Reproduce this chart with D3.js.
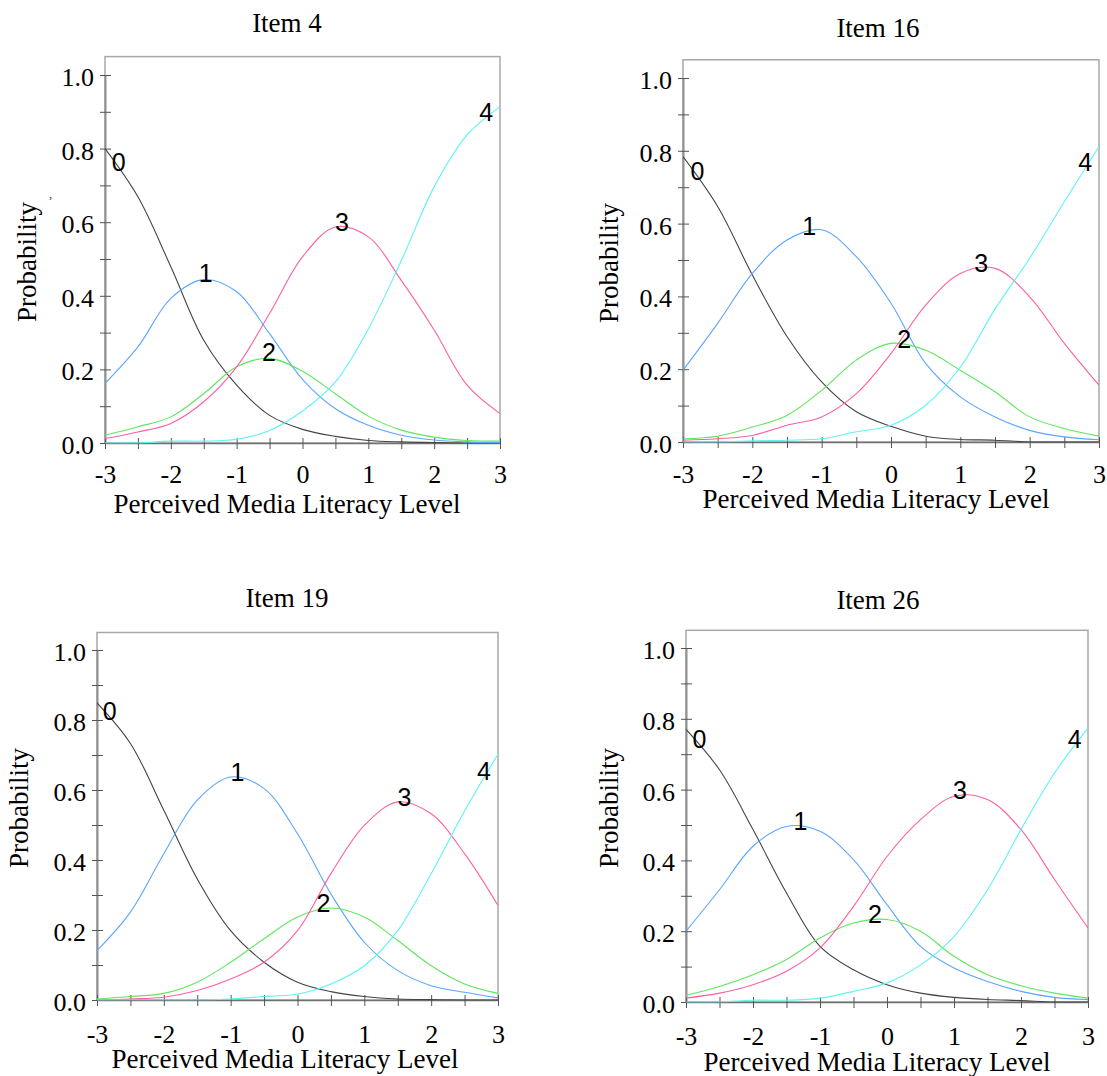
<!DOCTYPE html>
<html><head><meta charset="utf-8">
<script src="https://cdn.jsdelivr.net/npm/d3@7"></script>
<style>body{margin:0;background:#fff} svg{display:block}</style>
</head><body><svg id="c" width="1107" height="1076"></svg>
<script>
// ---- data ----
const theta = [-3, -2.5, -2, -1.5, -1, -0.5, 0, 0.5, 1, 1.5, 2, 2.5, 3];
const categories = ["0", "1", "2", "3", "4"];
const itemTitles = ["Item 4", "Item 16", "Item 19", "Item 26"];

const item4 = [
  [0.80, 0.669, 0.479, 0.279, 0.157, 0.075, 0.037, 0.018, 0.007, 0.003, 0.001, 0.0, 0.0],
  [0.162, 0.261, 0.393, 0.444, 0.411, 0.297, 0.173, 0.093, 0.048, 0.021, 0.008, 0.003, 0.001],
  [0.021, 0.044, 0.071, 0.134, 0.207, 0.23, 0.195, 0.134, 0.073, 0.035, 0.016, 0.007, 0.005],
  [0.012, 0.03, 0.053, 0.112, 0.207, 0.352, 0.506, 0.587, 0.56, 0.442, 0.307, 0.157, 0.08],
  [0.0, 0.0, 0.005, 0.005, 0.01, 0.034, 0.087, 0.166, 0.31, 0.495, 0.696, 0.837, 0.914]
];
const item16 = [
  [0.784, 0.647, 0.459, 0.29, 0.165, 0.083, 0.043, 0.016, 0.007, 0.005, 0.0, 0.0, 0.0],
  [0.197, 0.326, 0.463, 0.555, 0.583, 0.509, 0.381, 0.216, 0.124, 0.069, 0.032, 0.014, 0.006],
  [0.009, 0.016, 0.041, 0.073, 0.142, 0.225, 0.271, 0.252, 0.197, 0.138, 0.069, 0.037, 0.016],
  [0.005, 0.009, 0.018, 0.046, 0.069, 0.133, 0.243, 0.376, 0.463, 0.477, 0.399, 0.271, 0.156],
  [0.0, 0.0, 0.003, 0.005, 0.009, 0.028, 0.046, 0.101, 0.206, 0.365, 0.505, 0.66, 0.812]
];
const item19 = [
  [0.849, 0.733, 0.542, 0.346, 0.198, 0.108, 0.051, 0.024, 0.01, 0.003, 0.001, 0.0, 0.0],
  [0.141, 0.251, 0.418, 0.571, 0.637, 0.604, 0.475, 0.303, 0.165, 0.084, 0.041, 0.022, 0.006],
  [0.003, 0.01, 0.019, 0.051, 0.108, 0.175, 0.237, 0.263, 0.237, 0.17, 0.098, 0.046, 0.019],
  [0.0, 0.003, 0.008, 0.027, 0.06, 0.108, 0.198, 0.361, 0.499, 0.566, 0.532, 0.418, 0.27],
  [0.0, 0.0, 0.0, 0.0, 0.003, 0.01, 0.017, 0.046, 0.098, 0.198, 0.361, 0.54, 0.702]
];
const item26 = [
  [0.77, 0.656, 0.487, 0.308, 0.157, 0.091, 0.049, 0.025, 0.013, 0.007, 0.004, 0.0, 0.0],
  [0.20, 0.317, 0.44, 0.496, 0.482, 0.402, 0.275, 0.157, 0.096, 0.058, 0.03, 0.013, 0.007],
  [0.019, 0.044, 0.077, 0.12, 0.181, 0.223, 0.233, 0.20, 0.129, 0.077, 0.046, 0.025, 0.011],
  [0.011, 0.025, 0.049, 0.087, 0.153, 0.27, 0.411, 0.515, 0.581, 0.572, 0.487, 0.346, 0.209],
  [0.0, 0.0, 0.005, 0.005, 0.011, 0.03, 0.054, 0.105, 0.185, 0.317, 0.487, 0.647, 0.774]
];
// theta position where each category number is written on its curve
const item4LabelAt  = [-2.79, -1.47, -0.51, 0.60, 2.79];
const item16LabelAt = [-2.79, -1.18, 0.19, 1.30, 2.80];
const item19LabelAt = [-2.81, -0.90, 0.39, 1.60, 2.79];
const item26LabelAt = [-2.80, -1.29, -0.18, 1.09, 2.80];

const yTicks = [0, 0.1, 0.2, 0.3, 0.4, 0.5, 0.6, 0.7, 0.8, 0.9, 1.0];
const yTickLabels = [0, 0.2, 0.4, 0.6, 0.8, 1.0];
const xTicks = [-3, -2.5, -2, -1.5, -1, -0.5, 0, 0.5, 1, 1.5, 2, 2.5, 3];
const xTickLabels = [-3, -2, -1, 0, 1, 2, 3];
const xTitleText = "Perceived Media Literacy Level";
const yTitleText = "Probability";

// ---- styling / layout ----
const colors = ["#444444", "#5aa6ff", "#5ee65e", "#ff5fa2", "#5cf4f4"];
const serif = "'Liberation Serif','Times New Roman',serif";
const sans = "'Liberation Sans',Arial,sans-serif";

const panels = [
  {data: item4,  labels: item4LabelAt,  L: 105, R: 500,  Y0: 443,  Y1: 75,  tx: 287, ty: 32,  xtb: 483,  xt: [287, 513],  yt: [27, 262]},
  {data: item16, labels: item16LabelAt, L: 683, R: 1099, Y0: 442,  Y1: 78,  tx: 878, ty: 37,  xtb: 483,  xt: [876, 508],  yt: [609, 263]},
  {data: item19, labels: item19LabelAt, L: 97,  R: 498,  Y0: 1000, Y1: 650, tx: 287, ty: 607, xtb: 1043, xt: [285, 1068], yt: [19, 808]},
  {data: item26, labels: item26LabelAt, L: 686, R: 1088, Y0: 1002, Y1: 648, tx: 878, ty: 609, xtb: 1045, xt: [877, 1071], yt: [609, 808]}
];

const svg = d3.select("#c");

panels.forEach((p, pi) => {
  const g = svg.append("g");
  const x = d3.scaleLinear().domain([-3, 3]).range([p.L, p.R]);
  const y = d3.scaleLinear().domain([0, 1]).range([p.Y0, p.Y1]);
  const top = y(1.05);

  // frame
  g.append("rect").attr("x", p.L).attr("y", top).attr("width", p.R - p.L).attr("height", p.Y0 - top)
    .attr("fill", "none").attr("stroke", "#a8a8a8").attr("stroke-width", 1.5);

  // clip
  const cid = "clip" + pi;
  g.append("clipPath").attr("id", cid).append("rect")
    .attr("x", p.L).attr("y", top).attr("width", p.R - p.L).attr("height", p.Y0 - top + 0.5);

  // y axis
  const ya = g.append("g").attr("transform", `translate(${p.L},0)`)
    .call(d3.axisLeft(y).tickValues(yTicks).tickSizeInner(5).tickSizeOuter(0).tickPadding(6)
      .tickFormat(d => yTickLabels.some(v => Math.abs(v - d) < 1e-9) ? d.toFixed(1) : ""));
  ya.select(".domain").attr("stroke", "#909090").attr("stroke-width", 2);
  ya.selectAll(".tick line").attr("x1", 6).attr("stroke", "#555");
  ya.selectAll(".tick text").attr("font-family", serif).attr("font-size", 26).attr("fill", "#000").attr("dy", "0.4em");

  // x axis
  const xa = g.append("g").attr("transform", `translate(0,${p.Y0})`)
    .call(d3.axisBottom(x).tickValues(xTicks).tickSizeInner(6).tickSizeOuter(0)
      .tickFormat(d => xTickLabels.includes(d) ? String(d) : ""));
  xa.select(".domain").attr("stroke", "#707070").attr("stroke-width", 1.5);
  xa.selectAll(".tick line").attr("y1", -5).attr("stroke", "#555");
  xa.selectAll(".tick text").attr("font-family", serif).attr("font-size", 26).attr("fill", "#000")
    .attr("y", p.xtb - p.Y0).attr("dy", 0);

  // curves
  const line = d3.line().x((d, i) => x(theta[i])).y(d => y(d)).curve(d3.curveCatmullRom.alpha(0.5));
  g.append("g").attr("clip-path", `url(#${cid})`).selectAll("path").data(p.data).join("path")
    .attr("d", line).attr("fill", "none").attr("stroke", (d, i) => colors[i]).attr("stroke-width", 1.1);

  // category labels
  p.data.forEach((vals, ci) => {
    const interp = d3.scaleLinear().domain(theta).range(vals);
    const t = p.labels[ci];
    g.append("text").attr("x", x(t)).attr("y", y(interp(t)) + 2)
      .attr("text-anchor", "middle").attr("font-family", sans).attr("font-size", 25).attr("fill", "#000")
      .text(categories[ci]);
  });

  // titles
  g.append("text").attr("x", p.tx).attr("y", p.ty).attr("text-anchor", "middle")
    .attr("font-family", serif).attr("font-size", 27).text(itemTitles[pi]);
  g.append("text").attr("x", p.xt[0]).attr("y", p.xt[1]).attr("text-anchor", "middle")
    .attr("font-family", serif).attr("font-size", 27).text(xTitleText);
  g.append("text").attr("transform", `translate(${p.yt[0]},${p.yt[1]}) rotate(-90)`)
    .attr("text-anchor", "middle").attr("dominant-baseline", "central")
    .attr("font-family", serif).attr("font-size", 27).text(yTitleText);
});

// small stray mark seen beside the first y-axis title
svg.append("text").attr("x", 49).attr("y", 198).attr("font-family", serif).attr("font-size", 12)
  .attr("fill", "#333").text(",");
</script>
</body></html>
